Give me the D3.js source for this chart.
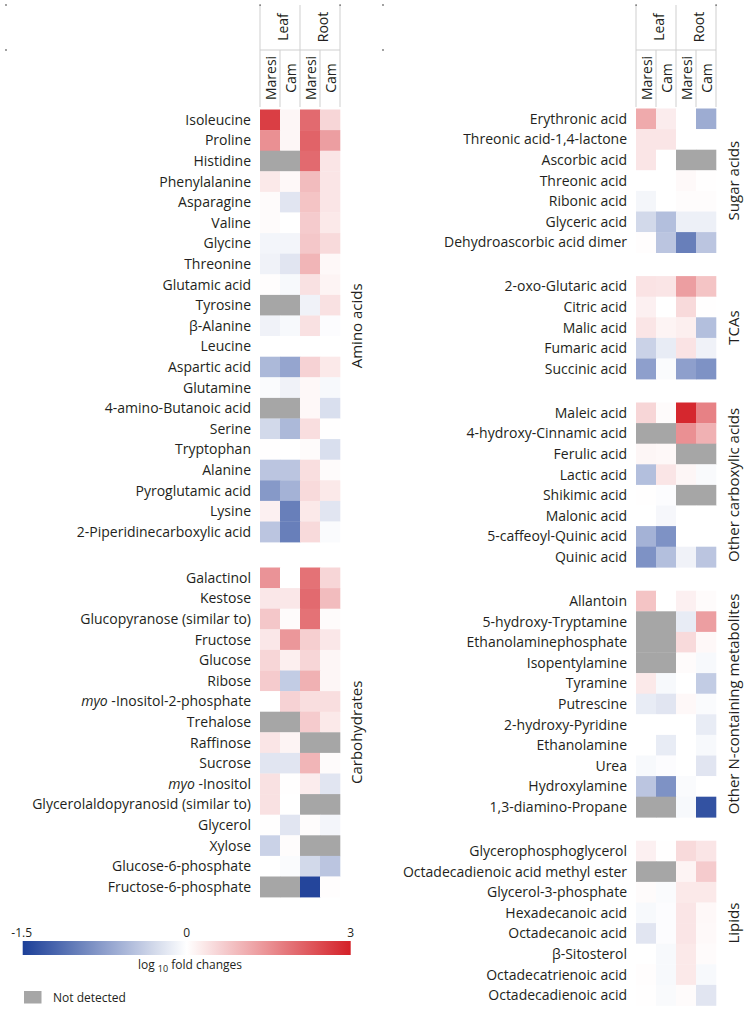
<!DOCTYPE html>
<html><head><meta charset="utf-8">
<script src="https://cdn.jsdelivr.net/npm/d3@7"></script>
<style>
body{margin:0;background:#fff;}
svg{display:block;font-family:"Open Sans",sans-serif;}
</style></head>
<body>
<svg id="chart" width="751" height="1013"></svg>
<script>
// ---------- DATA ----------
const organs = ["Leaf", "Root"];
const cultivars = ["Maresi", "Cam"];
const columns = ["Leaf Maresi", "Leaf Cam", "Root Maresi", "Root Cam"];
const colorDomain = [-1.5, 0, 3];
const legendTicks = ["-1.5", "0", "3"];

// values: log10 fold changes [Leaf Maresi, Leaf Cam, Root Maresi, Root Cam]; null = not detected
const aminoNames = ["Isoleucine","Proline","Histidine","Phenylalanine","Asparagine","Valine","Glycine","Threonine","Glutamic acid","Tyrosine","β-Alanine","Leucine","Aspartic acid","Glutamine","4-amino-Butanoic acid","Serine","Tryptophan","Alanine","Pyroglutamic acid","Lysine","2-Piperidinecarboxylic acid"];
const aminoValues = [
  [2.6,0.12,2.0,0.55],[1.5,0.12,2.1,1.3],[null,null,2.0,0.35],[0.3,0.1,0.9,0.35],
  [0.05,-0.2,0.8,0.35],[0.05,0,0.7,0.3],[-0.08,-0.08,0.75,0.5],[-0.1,-0.2,1.0,0.1],
  [0.03,-0.05,0.4,0.15],[null,null,-0.1,0.4],[-0.1,-0.05,0.4,-0.02],[0,0,0,0],
  [-0.55,-0.7,0.6,0.3],[-0.03,-0.1,0.1,-0.05],[null,null,0.1,-0.25],[-0.3,-0.55,0.45,0.02],
  [0.02,0,0.05,-0.25],[-0.45,-0.45,0.45,0.05],[-0.8,-0.6,0.5,0.3],[0.2,-1.0,0.3,-0.2],
  [-0.45,-1.0,0.5,-0.03]
];
const carbNames = ["Galactinol","Kestose","Glucopyranose (similar to)","Fructose","Glucose","Ribose","myo-Inositol-2-phosphate","Trehalose","Raffinose","Sucrose","myo-Inositol","Glycerolaldopyranosid (similar to)","Glycerol","Xylose","Glucose-6-phosphate","Fructose-6-phosphate"];
const carbValues = [
  [1.45,0,1.9,0.55],[0.32,0.32,2.0,0.9],[0.75,0.05,1.9,0.05],[0.32,1.4,0.65,0.32],
  [0.55,0.22,0.55,0.12],[0.7,-0.4,1.05,0.12],[0,0.6,0.45,0.45],[null,null,0.7,0.3],
  [0.35,0.15,null,null],[-0.2,-0.2,1.0,0.05],[0.4,0.02,0.25,-0.2],[0.4,0,null,null],
  [0.02,-0.2,0.04,-0.08],[-0.35,0.04,null,null],[0,-0.03,-0.3,-0.45],[null,null,-1.45,0.03]
];
const sugarAcidNames = ["Erythronic acid","Threonic acid-1,4-lactone","Ascorbic acid","Threonic acid","Ribonic acid","Glyceric acid","Dehydroascorbic acid dimer"];
const sugarAcidValues = [
  [1.15,0.25,0,-0.65],[0.35,0.35,0,0],[0.35,0,null,null],[0,0,0.08,0.02],
  [-0.07,0,0.04,0.04],[-0.3,-0.5,-0.12,-0.12],[0.03,-0.45,-1.0,-0.45]
];
const tcaNames = ["2-oxo-Glutaric acid","Citric acid","Malic acid","Fumaric acid","Succinic acid"];
const tcaValues = [
  [0.38,0.35,1.3,0.8],[0.2,0,0.5,0.02],[0.35,0.15,0.22,-0.5],[-0.35,-0.15,0.38,-0.1],[-0.75,-0.03,-0.75,-0.85]
];
const carboxNames = ["Maleic acid","4-hydroxy-Cinnamic acid","Ferulic acid","Lactic acid","Shikimic acid","Malonic acid","5-caffeoyl-Quinic acid","Quinic acid"];
const carboxValues = [
  [0.55,0.05,2.9,1.7],[null,null,1.5,1.05],[0.12,0.1,null,null],[-0.5,0.35,0.12,-0.04],
  [0.02,-0.02,null,null],[0,-0.06,0,0],[-0.6,-0.85,0,0],[-0.85,-0.5,-0.1,-0.45]
];
const nitroNames = ["Allantoin","5-hydroxy-Tryptamine","Ethanolaminephosphate","Isopentylamine","Tyramine","Putrescine","2-hydroxy-Pyridine","Ethanolamine","Urea","Hydroxylamine","1,3-diamino-Propane"];
const nitroValues = [
  [0.8,0,0.2,0.05],[null,null,-0.15,1.3],[null,null,0.5,0.1],[null,null,0.05,-0.05],
  [0.3,-0.05,0,-0.4],[-0.15,-0.2,0.1,-0.03],[0,0,0,-0.15],[0,-0.15,0,-0.05],
  [-0.05,-0.02,0,-0.2],[-0.45,-0.85,-0.03,0],[null,null,-0.05,-1.35]
];
const lipidNames = ["Glycerophosphoglycerol","Octadecadienoic acid methyl ester","Glycerol-3-phosphate","Hexadecanoic acid","Octadecanoic acid","β-Sitosterol","Octadecatrienoic acid","Octadecadienoic acid"];
const lipidValues = [
  [0.2,0.02,0.5,0.35],[null,null,0.15,0.7],[0.05,-0.03,0.3,0.3],[-0.05,-0.02,0.35,0.1],
  [-0.2,-0.02,0.35,0.08],[0,-0.05,0.3,0.05],[0.03,-0.05,0.3,-0.05],[0.02,-0.04,0.05,-0.2]
];

const leftGroups = [
  {label:"Amino acids", names:aminoNames, values:aminoValues},
  {label:"Carbohydrates", names:carbNames, values:carbValues}
];
const rightGroups = [
  {label:"Sugar acids", names:sugarAcidNames, values:sugarAcidValues},
  {label:"TCAs", names:tcaNames, values:tcaValues},
  {label:"Other carboxylic acids", names:carboxNames, values:carboxValues},
  {label:"Other N-containing metabolites", names:nitroNames, values:nitroValues},
  {label:"Lipids", names:lipidNames, values:lipidValues}
];

// ---------- LAYOUT ----------
const svg = d3.select("#chart");
const rowH = 20.6;
const textColor = "#231f20";
const naColor = "#a6a6a6";
const lineColor = "#cfcfcf";
const labelSize = 14;
const groupSize = 15;
const headerSize = 14;
const color = d3.scaleLinear().domain(colorDomain).range(["#1c3f98", "#ffffff", "#d42027"]).clamp(true);

function drawPanel(groups, cellX0, top, gap, groupLabelX, dotX) {
  const x = d3.scaleBand().domain(columns).range([cellX0, cellX0 + 80]);
  const g = svg.append("g");
  // header
  const hTop = 5, hMid = 50, hBot = 107;
  const organX = d3.scaleBand().domain(organs).range([cellX0, cellX0 + 80]);
  const hl = g.append("g").attr("stroke", lineColor).attr("stroke-width", 1).attr("fill", "none");
  hl.append("line").attr("x1", cellX0).attr("x2", cellX0 + 80).attr("y1", hMid).attr("y2", hMid);
  organs.forEach(o => {
    hl.append("line").attr("x1", organX(o)).attr("x2", organX(o)).attr("y1", hTop).attr("y2", hBot);
  });
  hl.append("line").attr("x1", cellX0 + 80).attr("x2", cellX0 + 80).attr("y1", hTop).attr("y2", hBot);
  columns.forEach((c, i) => {
    if (i % 2 === 1) hl.append("line").attr("x1", x(c)).attr("x2", x(c)).attr("y1", hMid).attr("y2", hBot);
  });
  [cellX0, cellX0 + 80].forEach(px => {
    g.append("rect").attr("x", px - 0.6).attr("y", hTop - 0.6).attr("width", 1.4).attr("height", 1.4).attr("fill", "#555");
  });
  organs.forEach(o => {
    const cx = organX(o) + organX.bandwidth() / 2 + 2;
    g.append("text").attr("transform", `translate(${cx},27) rotate(-90)`)
      .attr("text-anchor", "middle").attr("dominant-baseline", "central")
      .attr("font-size", headerSize).attr("fill", textColor).text(o);
  });
  columns.forEach((c, i) => {
    const cx = x(c) + x.bandwidth() / 2;
    g.append("text").attr("transform", `translate(${cx},78) rotate(-90)`)
      .attr("text-anchor", "middle").attr("dominant-baseline", "central")
      .attr("font-size", headerSize).attr("fill", textColor).text(cultivars[i % 2]);
  });
  [hTop, hMid].forEach(py => {
    svg.append("circle").attr("cx", dotX).attr("cy", py).attr("r", 0.9).attr("fill", "#777");
  });

  let yTop = top;
  groups.forEach(grp => {
    const n = grp.names.length;
    const y = d3.scaleBand().domain(grp.names).range([yTop, yTop + n * rowH]);
    const gg = g.append("g");
    grp.names.forEach((name, ri) => {
      gg.selectAll(null).data(grp.values[ri].map((v, ci) => ({v, c: columns[ci]})))
        .join("rect")
        .attr("x", d => x(d.c)).attr("y", y(name))
        .attr("width", x.bandwidth() + 0.3).attr("height", y.bandwidth() + 0.3)
        .attr("fill", d => d.v == null ? naColor : color(d.v));
      const t = gg.append("text").attr("x", cellX0 - 9).attr("y", y(name) + y.bandwidth() / 2)
        .attr("dy", "0.35em").attr("text-anchor", "end")
        .attr("font-size", labelSize).attr("fill", textColor);
      if (name.startsWith("myo-")) {
        t.append("tspan").attr("font-style", "italic").text("myo");
        t.append("tspan").text(" -" + name.slice(4));
      } else t.text(name);
    });
    const cy = yTop + n * rowH / 2;
    g.append("text").attr("transform", `translate(${groupLabelX},${cy}) rotate(-90)`)
      .attr("text-anchor", "middle").attr("dominant-baseline", "central")
      .attr("font-size", groupSize).attr("fill", textColor).text(grp.label);
    yTop += n * rowH + gap;
  });
}

drawPanel(leftGroups, 260, 109.5, 25.4, 356, 6);
drawPanel(rightGroups, 636, 108.5, 23.4, 733, 383);

// ---------- LEGEND ----------
const lx = d3.scaleLinear().domain(colorDomain).range([22.7, 186.7, 350.7]);
const defs = svg.append("defs");
const grad = defs.append("linearGradient").attr("id", "lg").attr("x1", "0%").attr("x2", "100%");
d3.range(0, 1.0001, 0.05).forEach(t => {
  const px = 22.7 + t * 328;
  grad.append("stop").attr("offset", (t * 100) + "%").attr("stop-color", color(lx.invert(px)));
});
svg.append("rect").attr("x", lx(-1.5)).attr("y", 941).attr("width", lx(3) - lx(-1.5)).attr("height", 14)
  .attr("fill", "url(#lg)");
colorDomain.forEach((v, i) => {
  svg.append("text").attr("x", lx(v) + (i === 0 ? -1 : 0)).attr("y", 937)
    .attr("text-anchor", "middle").attr("font-size", 12).attr("fill", textColor).text(legendTicks[i]);
});
const lt = svg.append("text").attr("x", 190).attr("y", 969).attr("text-anchor", "middle")
  .attr("font-size", 12).attr("fill", textColor);
lt.append("tspan").text("log ");
lt.append("tspan").attr("font-size", 9).attr("dy", 3).text("10");
lt.append("tspan").attr("dy", -3).text(" fold changes");
svg.append("rect").attr("x", 24).attr("y", 991).attr("width", 17.5).attr("height", 12.5).attr("fill", naColor);
svg.append("text").attr("x", 53).attr("y", 1001.5).attr("font-size", 12).attr("fill", textColor).text("Not detected");
</script>
</body></html>
